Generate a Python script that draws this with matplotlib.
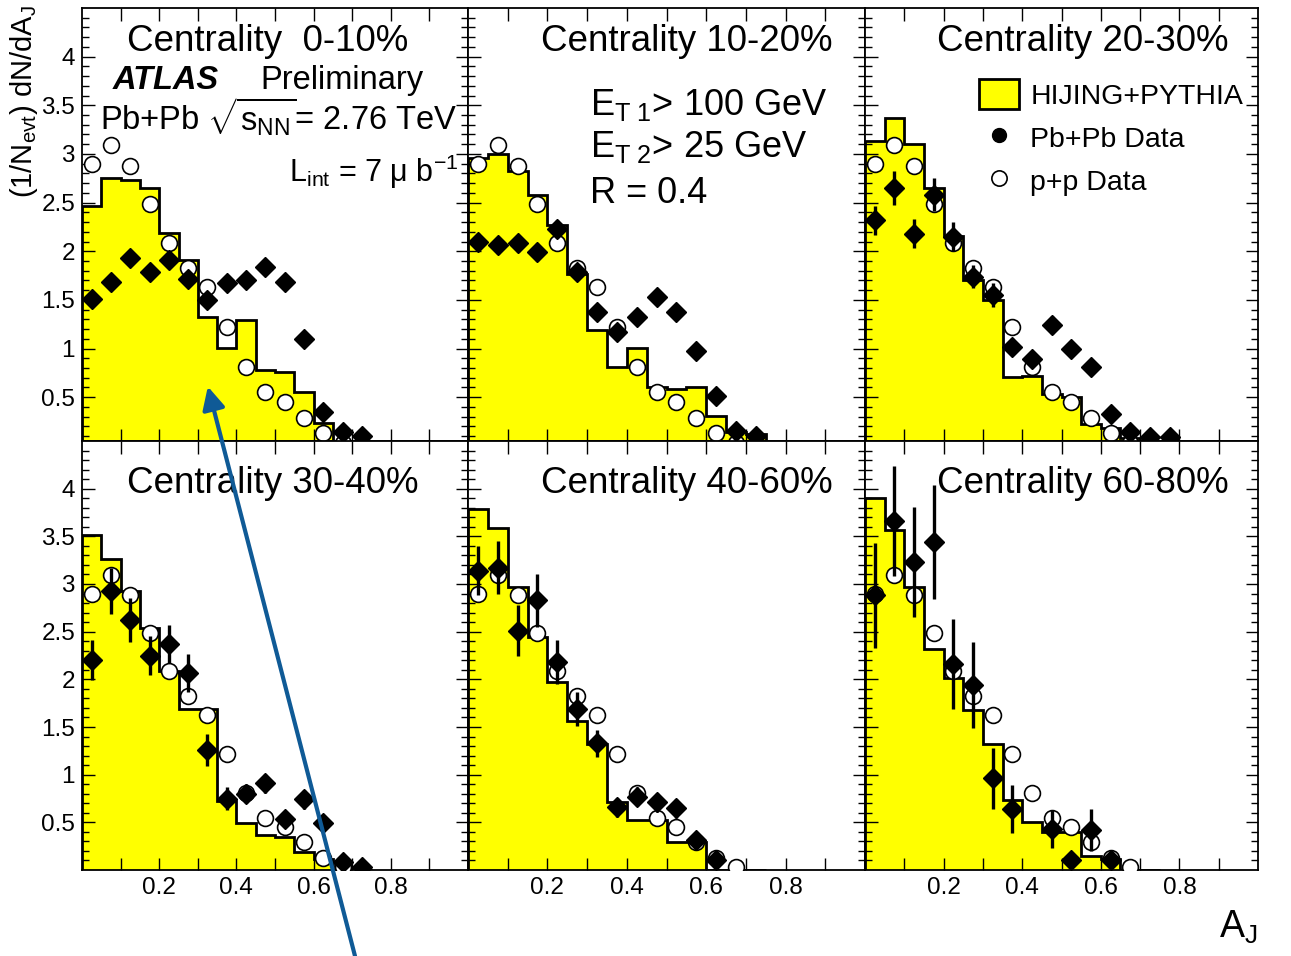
import numpy as np
import matplotlib
matplotlib.use("Agg")
import matplotlib.pyplot as plt
from matplotlib.patches import Patch, ConnectionPatch
from matplotlib.lines import Line2D
from matplotlib.ticker import FixedLocator, FuncFormatter

plt.rcParams['font.family'] = ['Liberation Sans', 'DejaVu Sans']
plt.rcParams['mathtext.fontset'] = 'custom'
plt.rcParams['mathtext.rm'] = 'Liberation Sans'
plt.rcParams['mathtext.it'] = 'Liberation Sans:italic'
plt.rcParams['mathtext.bf'] = 'Liberation Sans:bold'

# A_J binning
aj_edges = [0.0, 0.05, 0.1, 0.15, 0.2, 0.25, 0.3, 0.35, 0.4, 0.45, 0.5,
            0.55, 0.6, 0.65, 0.7, 0.75]
aj_centers = [0.025, 0.075, 0.125, 0.175, 0.225, 0.275, 0.325, 0.375, 0.425,
              0.475, 0.525, 0.575, 0.625, 0.675, 0.725, 0.775]

centralities = ["Centrality  0-10%", "Centrality 10-20%", "Centrality 20-30%",
                "Centrality 30-40%", "Centrality 40-60%", "Centrality 60-80%"]

# HIJING+PYTHIA histograms
hijing_0_10 = [2.46, 2.75, 2.73, 2.65, 2.19, 1.91, 1.32, 1.01, 1.29, 0.78, 0.76, 0.55, 0.24, 0.0, 0.0]
hijing_10_20 = [2.96, 3.00, 2.82, 2.58, 2.27, 1.77, 1.19, 0.81, 1.01, 0.60, 0.58, 0.60, 0.31, 0.14, 0.12]
hijing_20_30 = [3.13, 3.37, 3.10, 2.65, 2.16, 1.70, 1.50, 0.71, 0.72, 0.53, 0.50, 0.22, 0.18, 0.08, 0.0]
hijing_30_40 = [3.51, 3.26, 2.93, 2.54, 2.09, 1.69, 1.69, 0.72, 0.49, 0.37, 0.35, 0.19, 0.12, 0.0, 0.0]
hijing_40_60 = [3.79, 3.59, 2.97, 2.44, 1.97, 1.56, 1.32, 0.71, 0.52, 0.52, 0.29, 0.29, 0.0, 0.0, 0.0]
hijing_60_80 = [3.90, 3.57, 2.97, 2.32, 2.01, 1.68, 1.32, 0.73, 0.50, 0.40, 0.40, 0.15, 0.12, 0.0, 0.0]

# Pb+Pb data and errors
pbpb_0_10 = [1.51, 1.68, 1.93, 1.79, 1.91, 1.72, 1.50, 1.67, 1.70, 1.84, 1.68, 1.10, 0.35, 0.14, 0.10]
pbpb_0_10_err = [0.05, 0.05, 0.05, 0.05, 0.05, 0.05, 0.05, 0.05, 0.05, 0.05, 0.05, 0.04, 0.03, 0.02, 0.02]
pbpb_10_20 = [2.10, 2.06, 2.08, 1.99, 2.23, 1.79, 1.38, 1.17, 1.32, 1.53, 1.38, 0.98, 0.51, 0.15, 0.10]
pbpb_10_20_err = [0.09, 0.09, 0.09, 0.09, 0.09, 0.08, 0.07, 0.06, 0.06, 0.06, 0.06, 0.05, 0.04, 0.02, 0.02]
pbpb_20_30 = [2.32, 2.65, 2.18, 2.58, 2.15, 1.74, 1.55, 1.02, 0.89, 1.24, 1.00, 0.81, 0.33, 0.14, 0.09, 0.09]
pbpb_20_30_err = [0.15, 0.17, 0.15, 0.17, 0.15, 0.12, 0.12, 0.09, 0.08, 0.09, 0.08, 0.07, 0.05, 0.03, 0.02, 0.02]
pbpb_30_40 = [2.20, 2.93, 2.62, 2.25, 2.37, 2.07, 1.26, 0.75, 0.80, 0.91, 0.54, 0.74, 0.49, 0.08, 0.03]
pbpb_30_40_err = [0.21, 0.24, 0.23, 0.20, 0.20, 0.20, 0.17, 0.12, 0.10, 0.10, 0.08, 0.10, 0.08, 0.03, 0.02]
pbpb_40_60 = [3.14, 3.17, 2.51, 2.83, 2.18, 1.69, 1.33, 0.66, 0.77, 0.71, 0.65, 0.31, 0.11]
pbpb_40_60_err = [0.26, 0.28, 0.27, 0.28, 0.23, 0.18, 0.14, 0.10, 0.10, 0.10, 0.10, 0.05, 0.04]
pbpb_60_80 = [2.88, 3.66, 3.23, 3.44, 2.16, 1.94, 0.96, 0.64, np.nan, 0.43, 0.11, 0.42, 0.10]
pbpb_60_80_err = [0.55, 0.58, 0.58, 0.60, 0.47, 0.45, 0.32, 0.25, np.nan, 0.20, 0.04, 0.22, 0.05]

# p+p reference (same in every panel)
pp_data = [2.90, 3.09, 2.88, 2.49, 2.09, 1.83, 1.63, 1.22, 0.81, 0.55, 0.45, 0.29, 0.13, 0.03]

hijing_all = [hijing_0_10, hijing_10_20, hijing_20_30, hijing_30_40, hijing_40_60, hijing_60_80]
pbpb_all = [pbpb_0_10, pbpb_10_20, pbpb_20_30, pbpb_30_40, pbpb_40_60, pbpb_60_80]
pbpb_err_all = [pbpb_0_10_err, pbpb_10_20_err, pbpb_20_30_err, pbpb_30_40_err,
                pbpb_40_60_err, pbpb_60_80_err]

W, H = 1291, 956
fig = plt.figure(figsize=(W / 100, H / 100), dpi=100)

col_px = [(82, 468), (468, 865), (865, 1258)]
row_px = [(8, 441), (441, 870)]
ylims = [(0.05, 4.5), (0.0, 4.5)]

axes = []
for i in range(6):
    r, c = divmod(i, 3)
    l, rr = col_px[c]
    t, b = row_px[r]
    ax = fig.add_axes([l / W, 1 - b / H, (rr - l) / W, (b - t) / H])
    axes.append(ax)

    ax.stairs(hijing_all[i], aj_edges, fill=True, color='#ffff00', zorder=1)
    ax.stairs(hijing_all[i], aj_edges, color='black', lw=2.0, zorder=2)

    ax.scatter(aj_centers[:len(pp_data)], pp_data, s=130, facecolors='white',
               edgecolors='black', linewidths=1.2, zorder=3)
    n = len(pbpb_all[i])
    ax.errorbar(aj_centers[:n], pbpb_all[i], yerr=pbpb_err_all[i], fmt='D',
                color='black', ms=10, elinewidth=2.4, capsize=0, zorder=4)

    ax.set_xlim(0, 1)
    ax.set_ylim(*ylims[r])
    ax.xaxis.set_major_locator(FixedLocator([0.2, 0.4, 0.6, 0.8]))
    ax.xaxis.set_minor_locator(FixedLocator([0.1, 0.3, 0.5, 0.7, 0.9]))
    ax.yaxis.set_major_locator(FixedLocator([0.5, 1, 1.5, 2, 2.5, 3, 3.5, 4]))
    ax.yaxis.set_minor_locator(FixedLocator(np.arange(0.1, 4.5, 0.1)))
    ax.yaxis.set_major_formatter(FuncFormatter(lambda v, p: f'{v:g}'))
    ax.xaxis.set_major_formatter(FuncFormatter(lambda v, p: f'{v:g}'))
    ax.tick_params(which='both', direction='in', top=True, right=True,
                   labelsize=17.5, width=1.0, pad=5)
    ax.tick_params(axis='y', which='major', length=9)
    ax.tick_params(axis='y', which='minor', length=5)
    ax.tick_params(axis='x', which='both', length=9)
    ax.tick_params(labelleft=(c == 0), labelbottom=(r == 1))
    for s in ax.spines.values():
        s.set_linewidth(1.3)

    tx = [0.117, 0.184, 0.183][c]
    ty = [0.901, 0.878][r]
    ax.text(tx, ty, centralities[i], transform=ax.transAxes, fontsize=26.5,
            ha='left', va='baseline')

# panel 1 labels
ax = axes[0]
ax.text(0.080, 0.812, 'ATLAS', transform=ax.transAxes, fontsize=23.5,
        fontweight='bold', fontstyle='italic', va='baseline')
ax.text(0.461, 0.812, 'Preliminary', transform=ax.transAxes, fontsize=23.5,
        va='baseline')
ax.text(0.047, 0.718, r'Pb+Pb $\sqrt{\mathrm{s}_{\mathrm{NN}}}$= 2.76 TeV',
        transform=ax.transAxes, fontsize=23.5, va='baseline')
ax.text(0.975, 0.597, r'L$_{\mathrm{int}}$ = 7 $\mathrm{\mu}$ b$^{\mathrm{-1}}$',
        transform=ax.transAxes, fontsize=22, ha='right', va='baseline')

# panel 2 cuts
ax = axes[1]
ax.text(0.307, 0.753, r'E$_{\mathrm{T\ 1}}$> 100 GeV', transform=ax.transAxes,
        fontsize=26, va='baseline')
ax.text(0.307, 0.657, r'E$_{\mathrm{T\ 2}}$> 25 GeV', transform=ax.transAxes,
        fontsize=26, va='baseline')
ax.text(0.307, 0.550, 'R = 0.4', transform=ax.transAxes, fontsize=26,
        va='baseline')

# legend in panel 3
handles = [Patch(facecolor='#ffff00', edgecolor='black', lw=2),
           Line2D([], [], marker='o', ls='', color='black', ms=10),
           Line2D([], [], marker='o', ls='', mfc='white', mec='black', mew=1.2, ms=11)]
axes[2].legend(handles, ['HIJING+PYTHIA', 'Pb+Pb Data', 'p+p Data'],
               loc='upper left', bbox_to_anchor=(0.29, 0.835), frameon=False,
               fontsize=20.5, handlelength=1.4, handleheight=1.2,
               handletextpad=0.4, labelspacing=0.45, borderaxespad=0,
               borderpad=0)

fig.text(24 / W, 1 - 5 / H, r'(1/N$_{\mathrm{evt}}$) dN/dA$_{\mathrm{J}}$',
         rotation=90, ha='center', va='top', fontsize=21)
fig.text(1258 / W, 1 - 938 / H, r'A$_{\mathrm{J}}$', ha='right',
         va='baseline', fontsize=27)

# blue arrow drawn over the figure
arrow = ConnectionPatch(xyA=(355 / W, 0.0), coordsA='figure fraction',
                        xyB=(0.326, 0.61), coordsB='data', axesB=axes[0],
                        arrowstyle='-|>', color='#0f5a96', lw=3,
                        mutation_scale=34, shrinkA=0, shrinkB=0)
fig.add_artist(arrow)

fig.savefig('out.png', dpi=100)
